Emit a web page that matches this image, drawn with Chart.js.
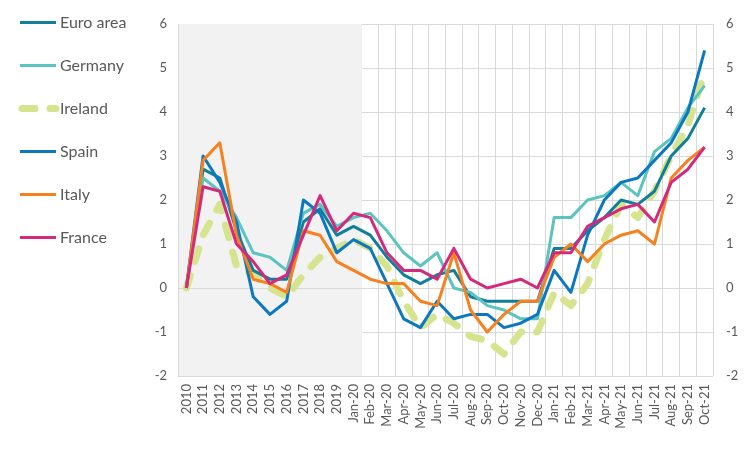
<!DOCTYPE html>
<html>
<head>
<meta charset="utf-8">
<script src="https://cdn.jsdelivr.net/npm/chart.js@4"></script>
<style>
  html, body { margin: 0; padding: 0; background: #fff; }
</style>
</head>
<body>
<canvas id="inflationChart" width="756" height="450"></canvas>
<script>
  // Categories: yearly averages, then monthly values
  var categories = ['2010', '2011', '2012', '2013', '2014', '2015', '2016', '2017', '2018', '2019',
    'Jan-20', 'Feb-20', 'Mar-20', 'Apr-20', 'May-20', 'Jun-20', 'Jul-20', 'Aug-20', 'Sep-20', 'Oct-20', 'Nov-20', 'Dec-20',
    'Jan-21', 'Feb-21', 'Mar-21', 'Apr-21', 'May-21', 'Jun-21', 'Jul-21', 'Aug-21', 'Sep-21', 'Oct-21'];
  var yTicks = [-2, -1, 0, 1, 2, 3, 4, 5, 6];
  var shadeUntil = 'Jan-20';  // grey block covers the yearly part

  var euroArea = [0, 2.7, 2.5, 1.3, 0.4, 0.2, 0.2, 1.5, 1.8, 1.2, 1.4, 1.2, 0.7, 0.3, 0.1, 0.3, 0.4, -0.2, -0.3, -0.3, -0.3, -0.3, 0.9, 0.9, 1.3, 1.6, 2.0, 1.9, 2.2, 3.0, 3.4, 4.1];
  var germany = [0, 2.5, 2.2, 1.6, 0.8, 0.7, 0.4, 1.7, 1.9, 1.4, 1.6, 1.7, 1.3, 0.8, 0.5, 0.8, 0.0, -0.1, -0.4, -0.5, -0.7, -0.7, 1.6, 1.6, 2.0, 2.1, 2.4, 2.1, 3.1, 3.4, 4.1, 4.6];
  var ireland = [0, 1.2, 1.9, 0.5, 0.3, 0.0, -0.2, 0.3, 0.7, 0.9, 1.1, 0.9, 0.5, -0.3, -0.9, -0.6, -0.8, -1.1, -1.2, -1.5, -1.0, -1.0, -0.1, -0.4, 0.1, 1.1, 1.9, 1.6, 2.2, 3.0, 3.7, 4.9];
  var spain = [0, 3.0, 2.4, 1.5, -0.2, -0.6, -0.3, 2.0, 1.7, 0.8, 1.1, 0.9, 0.1, -0.7, -0.9, -0.3, -0.7, -0.6, -0.6, -0.9, -0.8, -0.6, 0.4, -0.1, 1.2, 2.0, 2.4, 2.5, 2.9, 3.3, 4.0, 5.4];
  var italy = [0, 2.9, 3.3, 1.2, 0.2, 0.1, -0.1, 1.3, 1.2, 0.6, 0.4, 0.2, 0.1, 0.1, -0.3, -0.4, 0.8, -0.5, -1.0, -0.6, -0.3, -0.3, 0.7, 1.0, 0.6, 1.0, 1.2, 1.3, 1.0, 2.5, 2.9, 3.2];
  var france = [0, 2.3, 2.2, 1.0, 0.6, 0.1, 0.3, 1.2, 2.1, 1.3, 1.7, 1.6, 0.8, 0.4, 0.4, 0.2, 0.9, 0.2, 0.0, 0.1, 0.2, 0.0, 0.8, 0.8, 1.4, 1.6, 1.8, 1.9, 1.5, 2.4, 2.7, 3.2];

  var tickFont = { family: 'Lato', size: 13 };
  var textColor = '#595959';
  var gridColor = '#d9d9d9';

  // grey background behind the yearly section, zero line kept on top of it
  var shadePlugin = {
    id: 'shade',
    beforeDatasetsDraw: function(chart) {
      var ctx = chart.ctx, area = chart.chartArea;
      var xs = chart.scales.x, ys = chart.scales.y;
      var idx = categories.indexOf(shadeUntil);
      var end = (xs.getPixelForValue(idx) + xs.getPixelForValue(idx + 1)) / 2;
      ctx.save();
      ctx.fillStyle = '#f2f2f2';
      ctx.fillRect(area.left + 1, area.top, end - area.left - 1, area.bottom - area.top);
      var zero = Math.round(ys.getPixelForValue(0)) + 0.5;
      ctx.strokeStyle = gridColor;
      ctx.lineWidth = 1;
      ctx.beginPath();
      ctx.moveTo(area.left, zero);
      ctx.lineTo(end, zero);
      ctx.stroke();
      ctx.restore();
    }
  };

  // legend on the left, one line sample per series
  var sideLegend = {
    id: 'sideLegend',
    afterDraw: function(chart) {
      var ctx = chart.ctx;
      ctx.save();
      chart.data.datasets.forEach(function(ds, i) {
        var y = 22.5 + i * 43;
        ctx.strokeStyle = ds.borderColor;
        ctx.lineWidth = ds.borderWidth;
        ctx.lineCap = ds.borderCapStyle || 'butt';
        ctx.setLineDash(ds.borderDash || []);
        ctx.beginPath();
        ctx.moveTo(ds.borderDash ? 22 : 20, y);
        ctx.lineTo(56, y);
        ctx.stroke();
        ctx.setLineDash([]);
        ctx.fillStyle = textColor;
        ctx.font = '16px Lato';
        ctx.textBaseline = 'middle';
        ctx.fillText(ds.label, 60, y);
      });
      ctx.restore();
    }
  };

  function series(label, data, color, order) {
    return {
      label: label,
      data: data,
      borderColor: color,
      backgroundColor: color,
      borderWidth: 3,
      borderJoinStyle: 'round',
      pointRadius: 0,
      fill: false,
      tension: 0,
      order: order
    };
  }

  var irelandSet = series('Ireland', ireland, '#d7e48f', 7);
  irelandSet.borderWidth = 7;
  irelandSet.borderDash = [13, 15];
  irelandSet.borderCapStyle = 'round';

  var ctx = document.getElementById('inflationChart').getContext('2d');
  var inflationChart = new Chart(ctx, {
    type: 'line',
    data: {
      labels: categories,
      datasets: [
        series('Euro area', euroArea, '#127f99', 6),
        series('Germany', germany, '#5cc4c0', 5),
        irelandSet,
        series('Spain', spain, '#0b78c0', 4),
        series('Italy', italy, '#f7811f', 3),
        series('France', france, '#d42a7b', 1)
      ]
    },
    options: {
      responsive: false,
      animation: false,
      layout: { padding: { left: 138, right: 0, top: 24, bottom: 0 } },
      plugins: {
        legend: { display: false },
        tooltip: { enabled: false }
      },
      scales: {
        x: {
          offset: true,
          grid: { offset: true, color: gridColor, drawTicks: false },
          border: { display: false },
          ticks: { autoSkip: false, minRotation: 90, maxRotation: 90, padding: 8, color: textColor, font: tickFont },
          afterFit: function(scale) { scale.height = 74; }
        },
        y: {
          position: 'left',
          min: yTicks[0],
          max: yTicks[yTicks.length - 1],
          afterBuildTicks: function(scale) { scale.ticks = yTicks.map(function(v) { return { value: v }; }); },
          grid: { color: gridColor, drawTicks: false },
          border: { color: gridColor },
          ticks: { padding: 11, color: textColor, font: tickFont },
          afterFit: function(scale) { scale.width = 40; }
        },
        y2: {
          position: 'right',
          min: yTicks[0],
          max: yTicks[yTicks.length - 1],
          afterBuildTicks: function(scale) { scale.ticks = yTicks.map(function(v) { return { value: v }; }); },
          grid: { display: false, drawTicks: false },
          border: { display: false },
          ticks: { padding: 13, color: textColor, font: tickFont },
          afterFit: function(scale) { scale.width = 43; }
        }
      }
    },
    plugins: [shadePlugin, sideLegend]
  });
</script>
</body>
</html>
